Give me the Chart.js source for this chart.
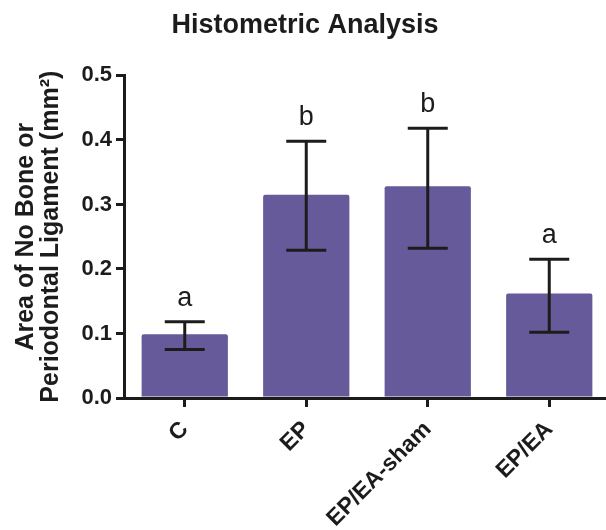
<!DOCTYPE html>
<html>
<head>
<meta charset="utf-8">
<title>Histometric Analysis</title>
<script src="https://cdn.jsdelivr.net/npm/chart.js@4.4.1/dist/chart.umd.min.js"></script>
<style>
  html, body { margin: 0; padding: 0; background: #fff; overflow: hidden; }
  #wrap { width: 612px; height: 530px; }
</style>
</head>
<body>
<div id="wrap"><canvas id="histo-chart" width="612" height="530"></canvas></div>
<script>
const groups = ['C', 'EP', 'EP/EA-sham', 'EP/EA'];
const areaMean = [0.099, 0.315, 0.328, 0.162];
const errLow = [0.075, 0.229, 0.232, 0.102];
const errHigh = [0.118, 0.398, 0.418, 0.215];
const sigLetters = ['a', 'b', 'b', 'a'];

const ink = '#1c1c1c';
const fontFam = 'Arial, "Liberation Sans", Helvetica, sans-serif';

// error bars + significance letters on top of each bar
const errorBars = {
    id: 'errorBars',
    afterDatasetsDraw(chart) {
        const ctx = chart.ctx;
        const yScale = chart.scales.y;
        const meta = chart.getDatasetMeta(0);
        ctx.save();
        ctx.strokeStyle = ink;
        ctx.lineWidth = 3;
        ctx.fillStyle = ink;
        ctx.font = '27px ' + fontFam;
        ctx.textAlign = 'center';
        ctx.textBaseline = 'alphabetic';
        meta.data.forEach((bar, i) => {
            const hi = yScale.getPixelForValue(errHigh[i]);
            const lo = yScale.getPixelForValue(errLow[i]);
            const cap = 20;
            ctx.beginPath();
            ctx.moveTo(bar.x, hi);
            ctx.lineTo(bar.x, lo);
            ctx.moveTo(bar.x - cap, hi);
            ctx.lineTo(bar.x + cap, hi);
            ctx.moveTo(bar.x - cap, lo);
            ctx.lineTo(bar.x + cap, lo);
            ctx.stroke();
            ctx.fillText(sigLetters[i], bar.x, hi - 16);
        });
        ctx.restore();
    }
};

const ctx = document.getElementById('histo-chart').getContext('2d');
new Chart(ctx, {
    type: 'bar',
    data: {
        labels: groups,
        datasets: [{
            label: 'Area',
            data: areaMean,
            backgroundColor: '#665a9a',
            borderRadius: 2,
            barPercentage: 0.71,
            categoryPercentage: 1.0
        }]
    },
    options: {
        responsive: false,
        animation: false,
        devicePixelRatio: 1,
        layout: { padding: { left: 0, right: 2, top: 0, bottom: 0 } },
        plugins: {
            legend: { display: false },
            tooltip: { enabled: false },
            title: {
                display: true,
                text: 'Histometric Analysis',
                color: ink,
                font: { family: fontFam, size: 27, weight: 'bold', lineHeight: 1.2 },
                padding: { top: 9, bottom: 34 }
            }
        },
        scales: {
            x: {
                afterFit(scale) { scale.height = 132; },
                grid: {
                    display: true,
                    drawOnChartArea: false,
                    offset: false,
                    tickLength: 9,
                    lineWidth: 3,
                    tickColor: ink
                },
                border: { display: true, color: ink, width: 3 },
                ticks: {
                    autoSkip: false,
                    minRotation: 45,
                    maxRotation: 45,
                    padding: 9,
                    color: ink,
                    font: { family: fontFam, size: 23, weight: 'bold' }
                }
            },
            y: {
                min: 0,
                max: 0.5,
                afterFit(scale) { scale.width = 124; },
                grid: {
                    display: true,
                    drawOnChartArea: false,
                    tickLength: 8,
                    lineWidth: 3,
                    tickColor: ink
                },
                border: { display: true, color: ink, width: 3 },
                ticks: {
                    stepSize: 0.1,
                    padding: 4,
                    color: ink,
                    font: { family: fontFam, size: 22, weight: 'bold' },
                    callback: v => v.toFixed(1)
                },
                title: {
                    display: true,
                    text: ['Area of No Bone or', 'Periodontal Ligament (mm\u00B2)'],
                    color: ink,
                    font: { family: fontFam, size: 25, weight: 'bold', lineHeight: 1.02 },
                    padding: { top: 13, bottom: 0 }
                }
            }
        }
    },
    plugins: [errorBars]
});
</script>
</body>
</html>
